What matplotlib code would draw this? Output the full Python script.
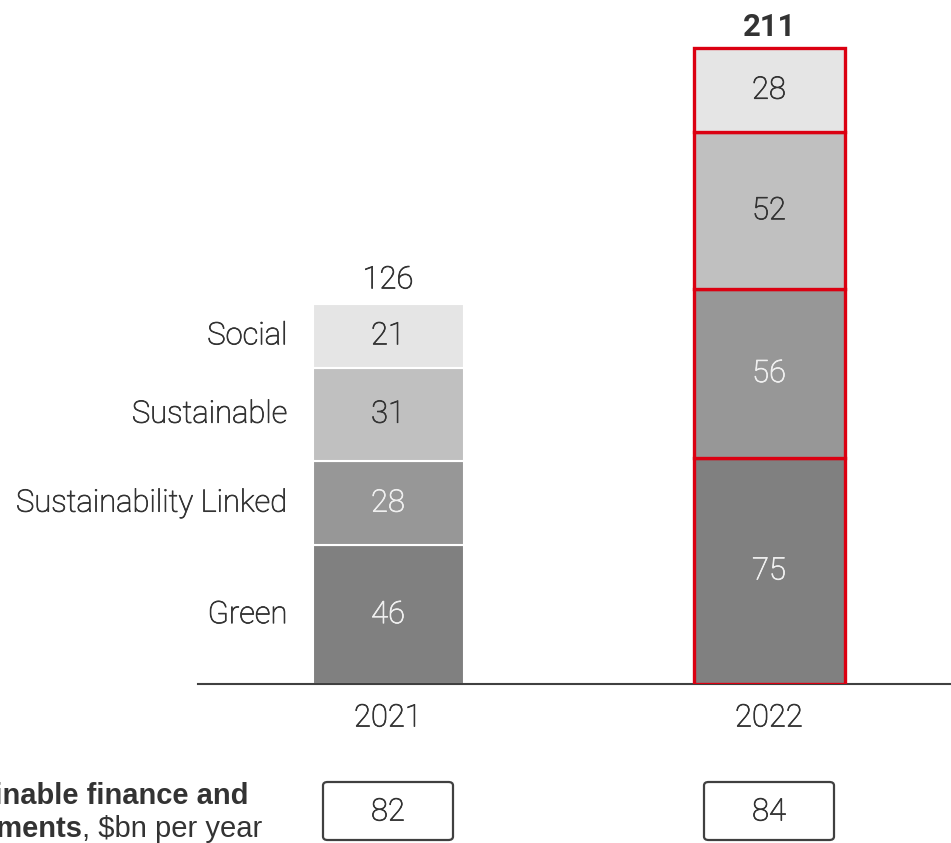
import matplotlib
import matplotlib.pyplot as plt
import matplotlib.patheffects as pe
from matplotlib.patches import FancyBboxPatch
from matplotlib.transforms import blended_transform_factory
import numpy as np

# data
years = ['2021', '2022']
categories = ['Green', 'Sustainability Linked', 'Sustainable', 'Social']
values = {
    'Green': [46, 75],
    'Sustainability Linked': [28, 56],
    'Sustainable': [31, 52],
    'Social': [21, 28],
}
totals = [126, 211]
box_values = [82, 84]

# style
matplotlib.rcParams['font.family'] = ['Roboto', 'DejaVu Sans']
FS = 22.3
WT = 'light'
CAPFONT = ['Liberation Sans', 'DejaVu Sans']
colors = {'Green': '#808080', 'Sustainability Linked': '#979797',
          'Sustainable': '#c0c0c0', 'Social': '#e5e5e5'}
txtcol = {'Green': '#f0f0f0', 'Sustainability Linked': '#f0f0f0',
          'Sustainable': '#333333', 'Social': '#333333'}
RED = '#db0011'
DARK = '#333333'


def thick(c):
    # roboto light is a touch too thin, thicken the strokes a bit
    return [pe.withStroke(linewidth=0.55, foreground=c)]


W, H = 951, 843
fig = plt.figure(figsize=(W / 100, H / 100), dpi=100)
# axes from baseline (y=684px) to top, x from 198px to right edge
ax = fig.add_axes([198 / W, (H - 684) / H, (W - 198) / W, 684 / H])
px_per_unit = 636 / 211.
ax.set_ylim(0, 684 / px_per_unit)
ax.set_xlim((198 - 388) / 381., (951 - 388) / 381.)

x = np.arange(len(years))
width = 151 / 381.
bottom = np.zeros(len(years))
for cat in categories:
    v = np.array(values[cat])
    for i in range(len(years)):
        if i == 1:
            ax.bar(x[i], v[i], width, bottom=bottom[i], color=colors[cat],
                   edgecolor=RED, linewidth=2.4, zorder=3)
        else:
            ax.bar(x[i], v[i], width, bottom=bottom[i], color=colors[cat],
                   edgecolor='white', linewidth=1.5, zorder=2)
        ax.text(x[i], bottom[i] + v[i] / 2., str(v[i]), ha='center', va='center',
                fontsize=FS, color=txtcol[cat], fontweight=WT, zorder=4,
                path_effects=thick(txtcol[cat]))
    # category labels left of first bar
    ax.text(x[0] - width / 2 - 25 / 381., bottom[0] + v[0] / 2., cat, ha='right',
            va='center', fontsize=FS, color=DARK, fontweight=WT, path_effects=thick(DARK))
    bottom += v

# totals
ax.annotate(str(totals[0]), (x[0], totals[0]), xytext=(0, 17.5), textcoords='offset points',
            ha='center', va='center', fontsize=FS, color=DARK, fontweight=WT,
            path_effects=thick(DARK))
ax.annotate(str(totals[1]), (x[1], totals[1]), xytext=(0, 15), textcoords='offset points',
            ha='center', va='center', fontsize=FS, color=DARK, fontweight='bold')

# axes decoration
for s in ['left', 'right', 'top']:
    ax.spines[s].set_visible(False)
ax.spines['bottom'].set_color('#404040')
ax.spines['bottom'].set_linewidth(1.5)
ax.set_yticks([])
ax.set_xticks(x)
ax.set_xticklabels(years, fontsize=FS, color=DARK, fontweight=WT)
for lbl in ax.get_xticklabels():
    lbl.set_path_effects(thick(DARK))
ax.tick_params(axis='x', length=0, pad=14)

# bottom row with boxes
tr = blended_transform_factory(ax.transData, fig.transFigure)
bw = 130 / 381.
for i in range(len(years)):
    box = FancyBboxPatch((x[i] - bw / 2, 3 / H), bw, 58 / H,
                         boxstyle='round,pad=0,rounding_size=0.012',
                         transform=tr, facecolor='white', edgecolor='#404040',
                         linewidth=1.6, clip_on=False, mutation_aspect=0.35)
    fig.add_artist(box)
    fig.text((x[i] * 381 + 388) / W, (H - 812) / H, str(box_values[i]), ha='center',
             va='center', fontsize=FS, color=DARK, fontweight=WT, path_effects=thick(DARK))

# caption, cut off at the left edge as in the source
CFS = 21
fig.text(249 / W, (H - 796) / H, 'Sustainable finance and', ha='right', va='center',
         fontsize=CFS, color=DARK, fontweight='bold', family=CAPFONT)
t2 = fig.text(262 / W, (H - 829) / H, ', $bn per year', ha='right', va='center',
              fontsize=CFS, color=DARK, family=CAPFONT)
ax.annotate('investments', xy=(0, 0.5), xycoords=t2, ha='right', va='center',
            fontsize=CFS, color=DARK, fontweight='bold', family=CAPFONT,
            annotation_clip=False)

fig.savefig('out.png', dpi=100)
